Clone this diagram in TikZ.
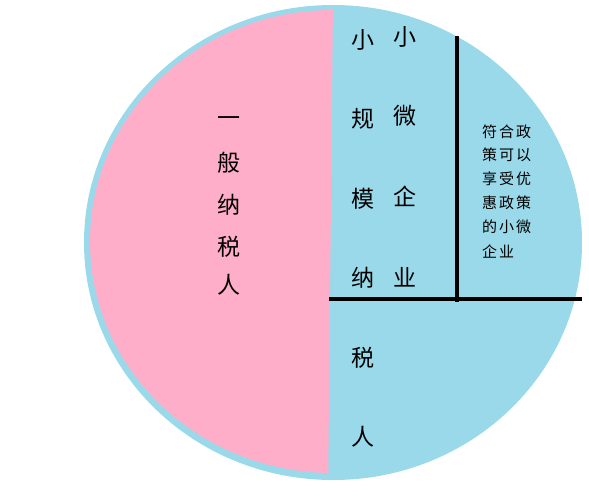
\documentclass[tikz,border=0pt]{standalone}
\usepackage{fontspec}
\newfontfamily\cjk{Noto Sans CJK SC}
\definecolor{rose}{HTML}{FFAEC9}
\definecolor{turq}{HTML}{99D9EA}
\begin{document}
\begin{tikzpicture}[x=1pt,y=-1pt,
  bigchar/.style={font=\cjk\fontsize{23}{23}\selectfont, inner sep=0pt, text=black},
  smallrow/.style={font=\cjk\fontsize{15}{15}\selectfont, inner sep=0pt, text=black, anchor=west},
  divider/.style={line width=4.5pt, black}]
\useasboundingbox (0,0) rectangle (589,498);
\fill[white] (0,0) rectangle (589,498);
% blue disc
\fill[turq] (333,242.5) ellipse [x radius=249, y radius=237.5];
% pink half
\begin{scope}
  \clip (0,0) -- (333,0) -- (328,498) -- (0,498) -- cycle;
  \fill[rose] (333,241.5) ellipse [x radius=243, y radius=231.5];
\end{scope}
% dividers
\coordinate (hl) at (329,299);
\coordinate (hr) at (582,299);
\coordinate (vt) at (457,36);
\coordinate (vb) at (457,302);
\draw[divider] (hl) -- (hr);
\draw[divider] (vt) -- (vb);
% left column
\foreach \c/\y [count=\i] in {一/122,般/163,纳/205,税/247,人/285}
  \node[bigchar] (g\i) at (229,\y) {\c};
% small-scale taxpayer column
\foreach \c/\y [count=\i] in {小/40,规/119,模/199,纳/278,税/358,人/437}
  \node[bigchar] (s\i) at (363,\y) {\c};
% micro enterprise column
\foreach \c/\y [count=\i] in {小/37,微/116,企/196,业/277}
  \node[bigchar] (m\i) at (405,\y) {\c};
% small text block
\foreach \t/\y [count=\i] in {符\hspace{2pt}合\hspace{2pt}政/132,策\hspace{2pt}可\hspace{2pt}以/155,享\hspace{2pt}受\hspace{2pt}优/179,惠\hspace{2pt}政\hspace{2pt}策/203,的\hspace{2pt}小\hspace{2pt}微/227,企\hspace{2pt}业/252}
  \node[smallrow] (p\i) at (482,\y) {\t};
\end{tikzpicture}
\end{document}
